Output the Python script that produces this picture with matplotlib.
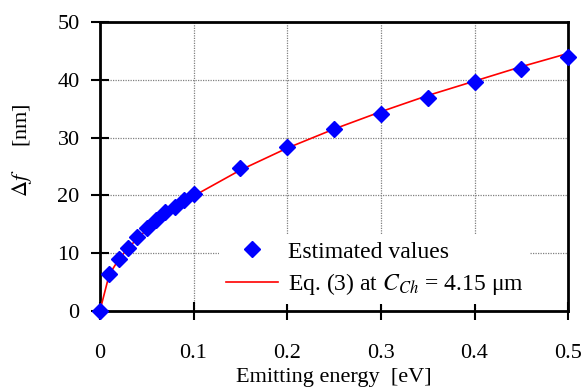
import matplotlib
matplotlib.use('Agg')
import matplotlib.pyplot as plt

# estimated points (blue diamonds)
energy = [0, 0.01, 0.02, 0.03, 0.04, 0.05, 0.06, 0.07, 0.08, 0.09, 0.10,
          0.15, 0.20, 0.25, 0.30, 0.35, 0.40, 0.45, 0.50]
delta_f = [0, 6.35, 9.05, 10.95, 12.75, 14.4, 15.7, 17.1, 18.05, 19.2, 20.2,
           24.8, 28.4, 31.5, 34.1, 36.85, 39.6, 41.9, 43.9]

# Eq. (3) curve
eq_energy = [0, 0.01, 0.02, 0.03, 0.05, 0.075, 0.10, 0.15, 0.20, 0.25,
             0.30, 0.35, 0.40, 0.45, 0.50]
eq_delta_f = [0, 6.3, 8.9, 10.9, 14.1, 17.3, 19.9, 24.4, 28.2, 31.5,
              34.5, 37.3, 39.8, 42.3, 44.6]

x_ticks = [0, 0.1, 0.2, 0.3, 0.4, 0.5]
x_labels = ['0', '0.1', '0.2', '0.3', '0.4', '0.5']
y_ticks = [0, 10, 20, 30, 40, 50]

plt.rcParams['font.family'] = 'serif'
plt.rcParams['font.serif'] = ['Liberation Serif', 'DejaVu Serif']
plt.rcParams['mathtext.fontset'] = 'stix'

fig = plt.figure(figsize=(5.84, 3.89), dpi=100)
ax = fig.add_axes([0.171, 0.2005, 0.802, 0.7425])

ax.plot(eq_energy, eq_delta_f, color='red', lw=1.2, zorder=3,
        label=r'Eq. (3) at $C_{Ch}$ = 4.15 μm')
ax.plot(energy, delta_f, linestyle='none', marker='D', ms=8.5, color='#0000ff',
        clip_on=False, zorder=4, label='Estimated values')

ax.set_xlim(0, 0.5)
ax.set_ylim(0, 50)
ax.set_xticks(x_ticks)
ax.set_xticklabels(x_labels)
ax.set_yticks(y_ticks)
ax.grid(True, color='#808080', linestyle=(0, (1, 1)), linewidth=0.9)
ax.set_axisbelow(True)

for s in ax.spines.values():
    s.set_linewidth(2)
ax.tick_params(direction='inout', length=13, width=1.5, labelsize=16)
ax.tick_params(axis='x', pad=17)
ax.tick_params(axis='y', pad=8)

ax.set_xlabel('Emitting energy  [eV]', fontsize=16, labelpad=4)
ax.set_ylabel(r'$\mathit{\Delta f}$     [nm]', fontsize=16)
ax.yaxis.set_label_coords(-0.141, 0.557)

handles, labels = ax.get_legend_handles_labels()
leg = ax.legend(handles[::-1], labels[::-1], loc='lower right',
                bbox_to_anchor=(0.919, 0.024), borderaxespad=0, fontsize=17,
                frameon=True, facecolor='white', edgecolor='none', framealpha=1,
                fancybox=False, handlelength=2.2, handletextpad=0.4,
                labelspacing=0.35, borderpad=0.3)

fig.savefig('out.png', dpi=100)
